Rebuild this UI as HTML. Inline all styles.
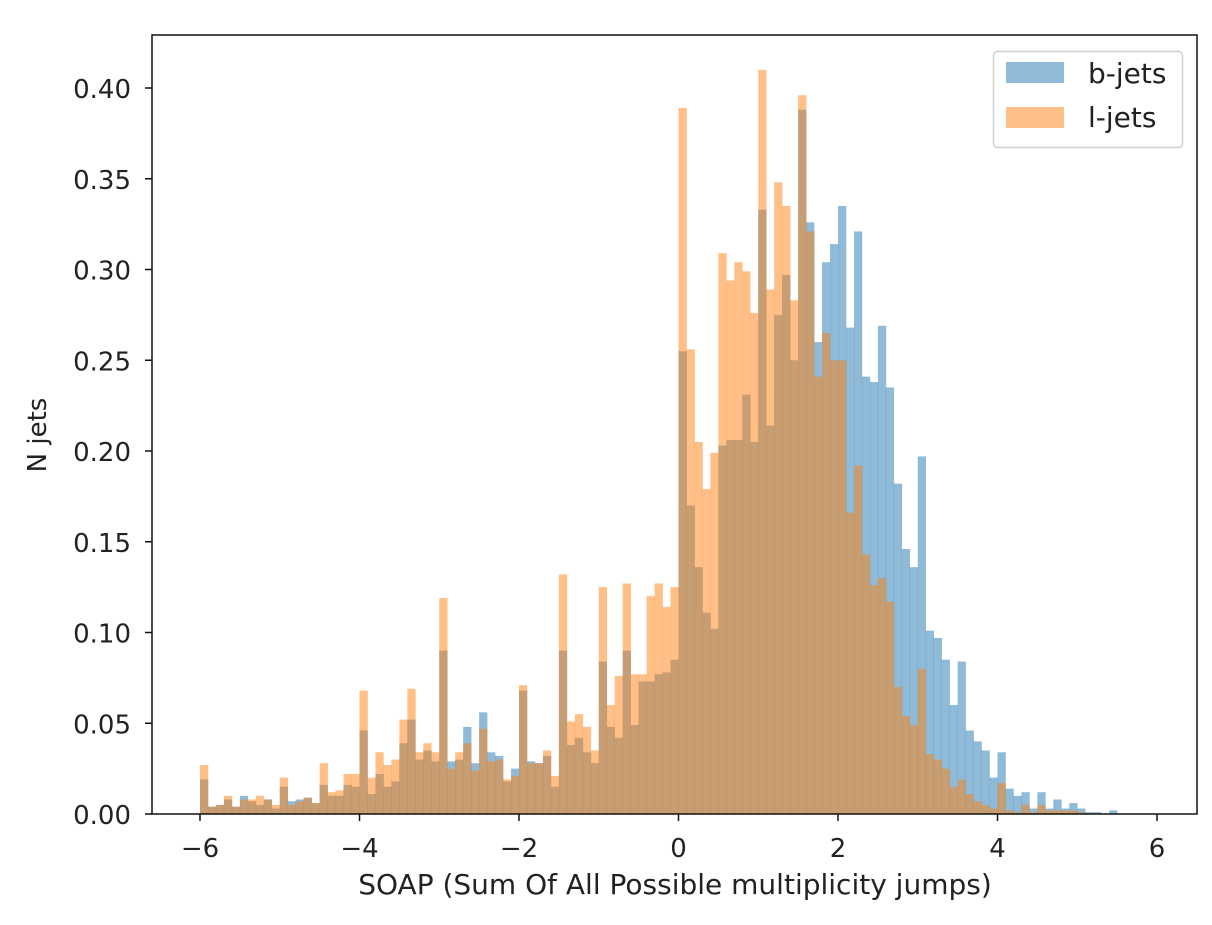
<!DOCTYPE html>
<html><head><meta charset="utf-8"><style>
html,body{margin:0;padding:0;background:#fff;}
svg text{font-family:"DejaVu Sans","Liberation Sans",sans-serif;fill:#222;}
</style></head><body>
<svg id="s" width="1212" height="920" xmlns="http://www.w3.org/2000/svg">
<rect width="1212" height="920" fill="#fff"/>
<g id="bars"></g>
<rect x="152" y="35" width="1045" height="779" fill="none" stroke="#111" stroke-width="1.5"/>
<g id="ticks" font-size="26"></g>
<text x="675" y="894" font-size="28" text-anchor="middle">SOAP (Sum Of All Possible multiplicity jumps)</text>
<text transform="translate(46,435) rotate(-90)" font-size="26" text-anchor="middle">N jets</text>
<rect x="993.5" y="51.5" width="189" height="96" rx="4" fill="#fff" stroke="#d0d0d0" stroke-width="1.5"/>
<rect x="1006" y="62" width="58" height="21" fill="#1f77b4" fill-opacity="0.5"/>
<rect x="1006" y="107" width="58" height="21" fill="#ff7f0e" fill-opacity="0.5"/>
<text x="1088" y="83" font-size="28">b-jets</text>
<text x="1088" y="127" font-size="28">l-jets</text>
</svg>
<script>
var b=[.019,.004,.005,.008,.004,.010,.007,.005,.008,.003,.015,.007,.008,.009,.006,.016,.010,.010,.016,.015,.046,.011,.022,.015,.018,.039,.052,.030,.035,.029,.090,
.029,.030,.048,.028,.056,.034,.032,.018,.025,.068,.029,.028,.032,.015,.090,.038,.042,.034,.028,.084,.048,.042,.090,.049,.073,.073,.077,.078,.085,
.255,.170,.136,.111,.102,.203,.206,.206,.231,.205,.333,.214,.275,.297,.250,.388,.326,.260,.304,.314,.335,.268,.321,.241,.238,.269,.235,.182,.146,.136,.197,
.101,.097,.085,.060,.084,.046,.040,.035,.020,.034,.014,.010,.012,.003,.012,.003,.008,.003,.006,.003,.001,.001,0,.002,0,0,0,0,0];
var l=[.027,.004,.005,.010,.004,.008,.008,.010,.008,.005,.020,.005,.007,.009,.006,.028,.012,.013,.022,.022,.068,.020,.034,.027,.030,.052,.069,.034,.039,.034,.119,
.025,.034,.039,.024,.047,.029,.030,.019,.021,.071,.028,.028,.035,.021,.132,.051,.055,.048,.035,.125,.060,.076,.127,.077,.077,.120,.127,.114,.125,
.389,.256,.205,.179,.199,.309,.294,.304,.299,.276,.410,.289,.348,.335,.283,.396,.321,.241,.265,.250,.250,.166,.192,.143,.126,.130,.117,.070,.054,.049,.080,
.033,.030,.025,.015,.019,.011,.007,.005,.003,.017,.002,.001,.005,.001,.005,.002,.002,.002,.002,.001,0,0,0,0,0,0,0,0,0];
var NS="http://www.w3.org/2000/svg";
function X(v){return 678.5+v*79.75;}
function Y(v){return 814-v*1815;}
var g=document.getElementById("bars");
function draw(a,c){for(var i=0;i<a.length;i++){if(!a[i])continue;var x0=X(-6+i*0.1),x1=X(-6+(i+1)*0.1);
var r=document.createElementNS(NS,"rect");r.setAttribute("x",x0);r.setAttribute("width",x1-x0+0.3);
r.setAttribute("y",Y(a[i]));r.setAttribute("height",a[i]*1815);r.setAttribute("fill",c);r.setAttribute("fill-opacity","0.5");g.appendChild(r);}}
draw(b,"#1f77b4");draw(l,"#ff7f0e");
var t=document.getElementById("ticks"),h="";
for(var v=-6;v<=6;v+=2){var x=X(v);h+='<line x1="'+x+'" x2="'+x+'" y1="814" y2="821" stroke="#111" stroke-width="1.5"/>';
h+='<text x="'+x+'" y="857" text-anchor="middle">'+(v<0?'\u2212'+(-v):v)+'</text>';}
for(var k=0;k<=8;k++){var val=k*0.05,y=Y(val);h+='<line x1="145" x2="152" y1="'+y+'" y2="'+y+'" stroke="#111" stroke-width="1.5"/>';
h+='<text x="131" y="'+(y+10)+'" text-anchor="end">'+val.toFixed(2)+'</text>';}
t.innerHTML=h;
</script>
</body></html>
